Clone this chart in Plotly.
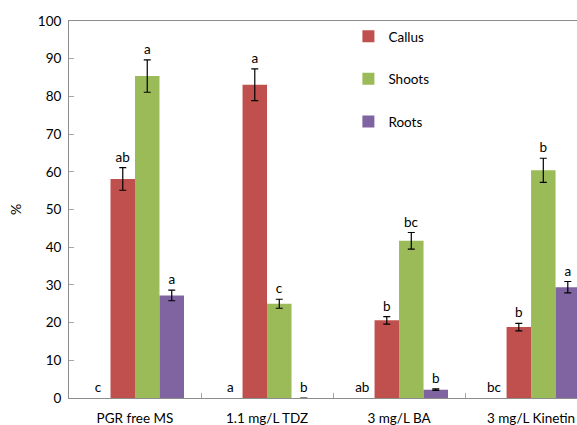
import plotly.graph_objects as go

categories = ["PGR free MS", "1.1 mg/L TDZ", "3 mg/L BA", "3 mg/L Kinetin"]
callus = [58.1, 83.1, 20.6, 18.8]
callus_err = [3.0, 4.2, 1.0, 1.0]
shoots = [85.4, 25.0, 41.7, 60.4]
shoots_err = [4.3, 1.2, 2.2, 3.2]
roots = [27.2, 0.0, 2.2, 29.4]
roots_err = [1.4, None, 0.2, 1.5]
blank_letters = ["c", "a", "ab", "bc"]
callus_letters = ["ab", "a", "b", "b"]
shoots_letters = ["a", "c", "bc", "b"]
roots_letters = ["a", "b", "b", "a"]

FONT = "Lato"
fig = go.Figure()

def label_trace(group, base_vals, errs, letters):
    bases = [v + (e or 0) for v, e in zip(base_vals, errs)]
    return go.Bar(
        x=categories, y=[0] * len(categories), base=bases,
        offsetgroup=group, marker=dict(color="rgba(0,0,0,0)", line=dict(width=0)),
        text=letters, textposition="outside", constraintext="none",
        textfont=dict(family=FONT, size=13.5, color="black"),
        cliponaxis=False, showlegend=False, hoverinfo="skip",
    )

# blank slot (letters only)
fig.add_trace(label_trace("blank", [0] * 4, [0] * 4, blank_letters))

series = [
    ("Callus", callus, callus_err, callus_letters, "#C0504D"),
    ("Shoots", shoots, shoots_err, shoots_letters, "#9BBB59"),
    ("Roots", roots, roots_err, roots_letters, "#8064A2"),
]
for name, vals, errs, letters, color in series:
    fig.add_trace(go.Bar(
        x=categories, y=vals, name=name, offsetgroup=name, legendgroup=name,
        marker=dict(color=color, line=dict(width=0)),
        error_y=dict(type="data", array=errs, visible=True, color="black",
                     thickness=1.2, width=3.5),
    ))
for name, vals, errs, letters, color in series:
    fig.add_trace(label_trace(name, vals, errs, letters))

fig.update_layout(
    width=577, height=425,
    margin=dict(l=69, r=0, t=21, b=27),
    paper_bgcolor="white", plot_bgcolor="white",
    barmode="group", bargap=0.258, bargroupgap=0,
    font=dict(family=FONT, size=13, color="black"),
    legend=dict(x=0.55, y=1.0, xanchor="left", yanchor="top",
                tracegroupgap=22, font=dict(family=FONT, size=13.5),
                bgcolor="rgba(0,0,0,0)", itemwidth=30),
    xaxis=dict(range=[-0.5, 3.348], showline=True, linecolor="#8c8c8c", linewidth=1,
               mirror=True, ticks="inside", tickson="boundaries", ticklen=5,
               tickcolor="#a6a6a6", showgrid=False, zeroline=False, automargin=False,
               ticklabelstandoff=8, tickfont=dict(family=FONT, size=13.5)),
    yaxis=dict(range=[0, 100], dtick=10, showline=True, linecolor="#8c8c8c", linewidth=1,
               ticks="inside", ticklen=5, tickcolor="#a6a6a6", showgrid=False,
               zeroline=False, automargin=False, tickfont=dict(family=FONT, size=13.5),
               ticklabelstandoff=4,
               title=dict(text="%", standoff=12, font=dict(family=FONT, size=14))),
)

fig.write_html("out.html", config={"displayModeBar": False},
               post_script="document.body.style.margin='0px';")
